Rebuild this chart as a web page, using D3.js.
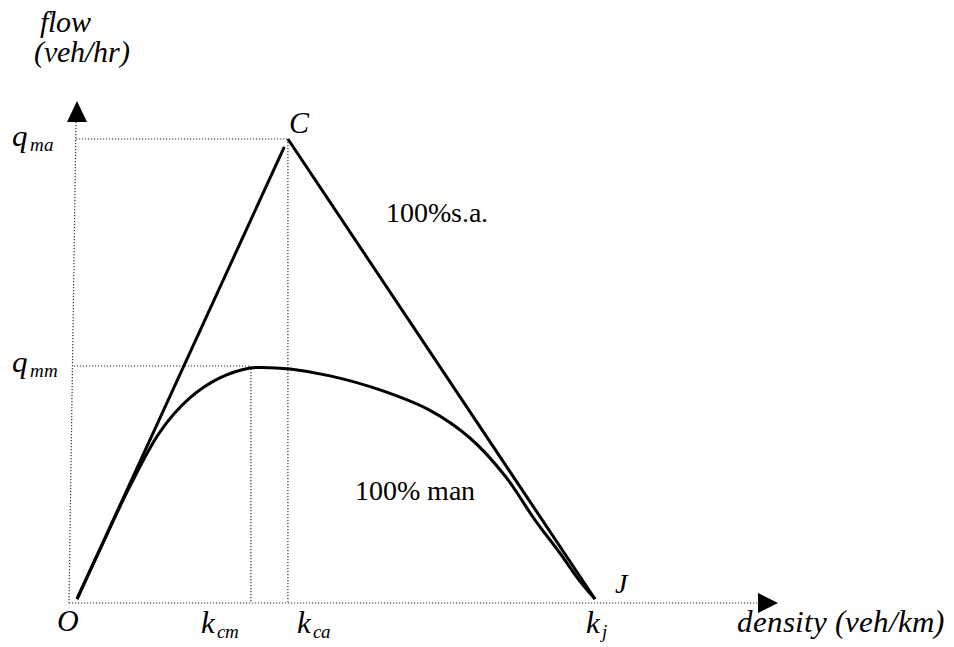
<!DOCTYPE html>
<html>
<head>
<meta charset="utf-8">
<script src="https://cdn.jsdelivr.net/npm/d3@7"></script>
<style>
  @font-face { font-family: "ChartSerif"; font-style: normal; src: local("Liberation Serif"), local("LiberationSerif"), local("Times New Roman"), local("FreeSerif"); }
  @font-face { font-family: "ChartSerif"; font-style: italic; src: local("Liberation Serif Italic"), local("LiberationSerif-Italic"), local("Times New Roman Italic"), local("FreeSerif Italic"); }
  body { margin: 0; background: #fff; }
  .lbl { font-family: "ChartSerif", "Liberation Serif", "Times New Roman", Times, Tinos, FreeSerif, serif; }
</style>
</head>
<body>
<svg id="chart" width="954" height="647"></svg>
<script>
// Fundamental diagram: flow vs density, automated vs manual traffic
const densityJam = 140;        // k_j (veh/km)
const densityCritAuto = 57;    // k_ca
const densityCritMan = 47;     // k_cm
const flowMaxAuto = 2000;      // q_ma (veh/hr)
const flowMaxMan = 1013;       // q_mm

// 100% manual: concave flow-density curve
const manDensity = [0, 6.2, 14.3, 22.4, 30.5, 38.6, 46.8, 50, 57.6, 68.4, 81.9, 95.4, 106.2, 115.7, 123.8, 130.5, 135.9, 140];
const manFlow    = [0, 215, 490, 726, 874, 961, 1004, 1007, 1000, 970, 909, 820, 700, 535, 343, 200, 78, 0];

// 100% self-automated: triangular diagram O -> C -> J
const saDensity = [0, densityCritAuto, densityJam];
const saFlow    = [0, flowMaxAuto, 0];

const svg = d3.select("#chart");

const x = d3.scaleLinear().domain([0, densityJam]).range([77, 595]);
const y = d3.scaleLinear().domain([0, flowMaxAuto]).range([599, 139]);

const axisY = 603;

// dotted axes and guides
function dline(x1, y1, x2, y2) {
  return svg.append("line").attr("x1", x1).attr("y1", y1).attr("x2", x2).attr("y2", y2)
    .attr("fill", "none").attr("stroke", "#333").attr("stroke-width", 1.2)
    .attr("stroke-dasharray", "1.2,1.8");
}
dline(x(0) - 1, 122, x(0) - 8, axisY);          // flow axis
dline(x(0) - 8, axisY, 760, axisY);             // density axis

// arrow heads
svg.append("path").attr("d", `M${x(0)},101 L${x(0) - 10},122 L${x(0) + 10},122 Z`).attr("fill", "#000");
svg.append("path").attr("d", `M778,${axisY} L758,${axisY - 10} L758,${axisY + 10} Z`).attr("fill", "#000");

// guide lines to capacity points
dline(x(0) - 1, y(flowMaxAuto), x(densityCritAuto), y(flowMaxAuto));
dline(x(densityCritAuto), y(flowMaxAuto), x(densityCritAuto), axisY);
dline(x(0) - 3, y(flowMaxMan), x(densityCritMan), y(flowMaxMan));
dline(x(densityCritMan), y(flowMaxMan), x(densityCritMan), axisY);

// self-automated branches (free-flow branch stops just short of C)
const line = d3.line().x(d => x(d[0])).y(d => y(d[1]));
const freeEnd = 0.983;
svg.append("path")
  .attr("d", line([[saDensity[0], saFlow[0]], [saDensity[1] * freeEnd, saFlow[1] * freeEnd]]))
  .attr("fill", "none").attr("stroke", "#000").attr("stroke-width", 3);
svg.append("path")
  .attr("d", line([[saDensity[1], saFlow[1]], [saDensity[2], saFlow[2]]]))
  .attr("fill", "none").attr("stroke", "#000").attr("stroke-width", 3);

// manual curve
const manPts = manDensity.map((k, i) => [k, manFlow[i]]);
svg.append("path")
  .attr("d", d3.line().x(d => x(d[0])).y(d => y(d[1])).curve(d3.curveCatmullRom.alpha(0.5))(manPts))
  .attr("fill", "none").attr("stroke", "#000").attr("stroke-width", 3);

// text helpers
function txt(s, tx, ty, size, italic) {
  return svg.append("text").attr("class", "lbl").attr("x", tx).attr("y", ty)
    .style("font-size", size + "px").style("font-style", italic ? "italic" : "normal")
    .text(s);
}
function subLabel(main, sub, tx, ty) {
  const t = svg.append("text").attr("class", "lbl").attr("x", tx).attr("y", ty)
    .style("font-style", "italic");
  t.append("tspan").style("font-size", "31px").text(main);
  t.append("tspan").style("font-size", "19px").attr("dy", 5).attr("dx", 2).text(sub);
  return t;
}

// axis titles
txt("flow", 40, 32, 30, true);
txt("(veh/hr)", 34, 62, 30, true);
txt("density (veh/km)", 737, 632, 31, true);

// axis annotations
subLabel("q", "ma", 12, 146);
subLabel("q", "mm", 12, 372);
txt("O", 57, 631, 30, true);
subLabel("k", "cm", 201, 633);
subLabel("k", "ca", 297, 633);
subLabel("k", "j", 586, 633);

// point labels
txt("C", 289, 133, 30, true);
txt("J", 615, 593, 28, true);

// series labels
txt("100%s.a.", 386, 222, 28, false);
txt("100% man", 355, 500, 28, false);
</script>
</body>
</html>
